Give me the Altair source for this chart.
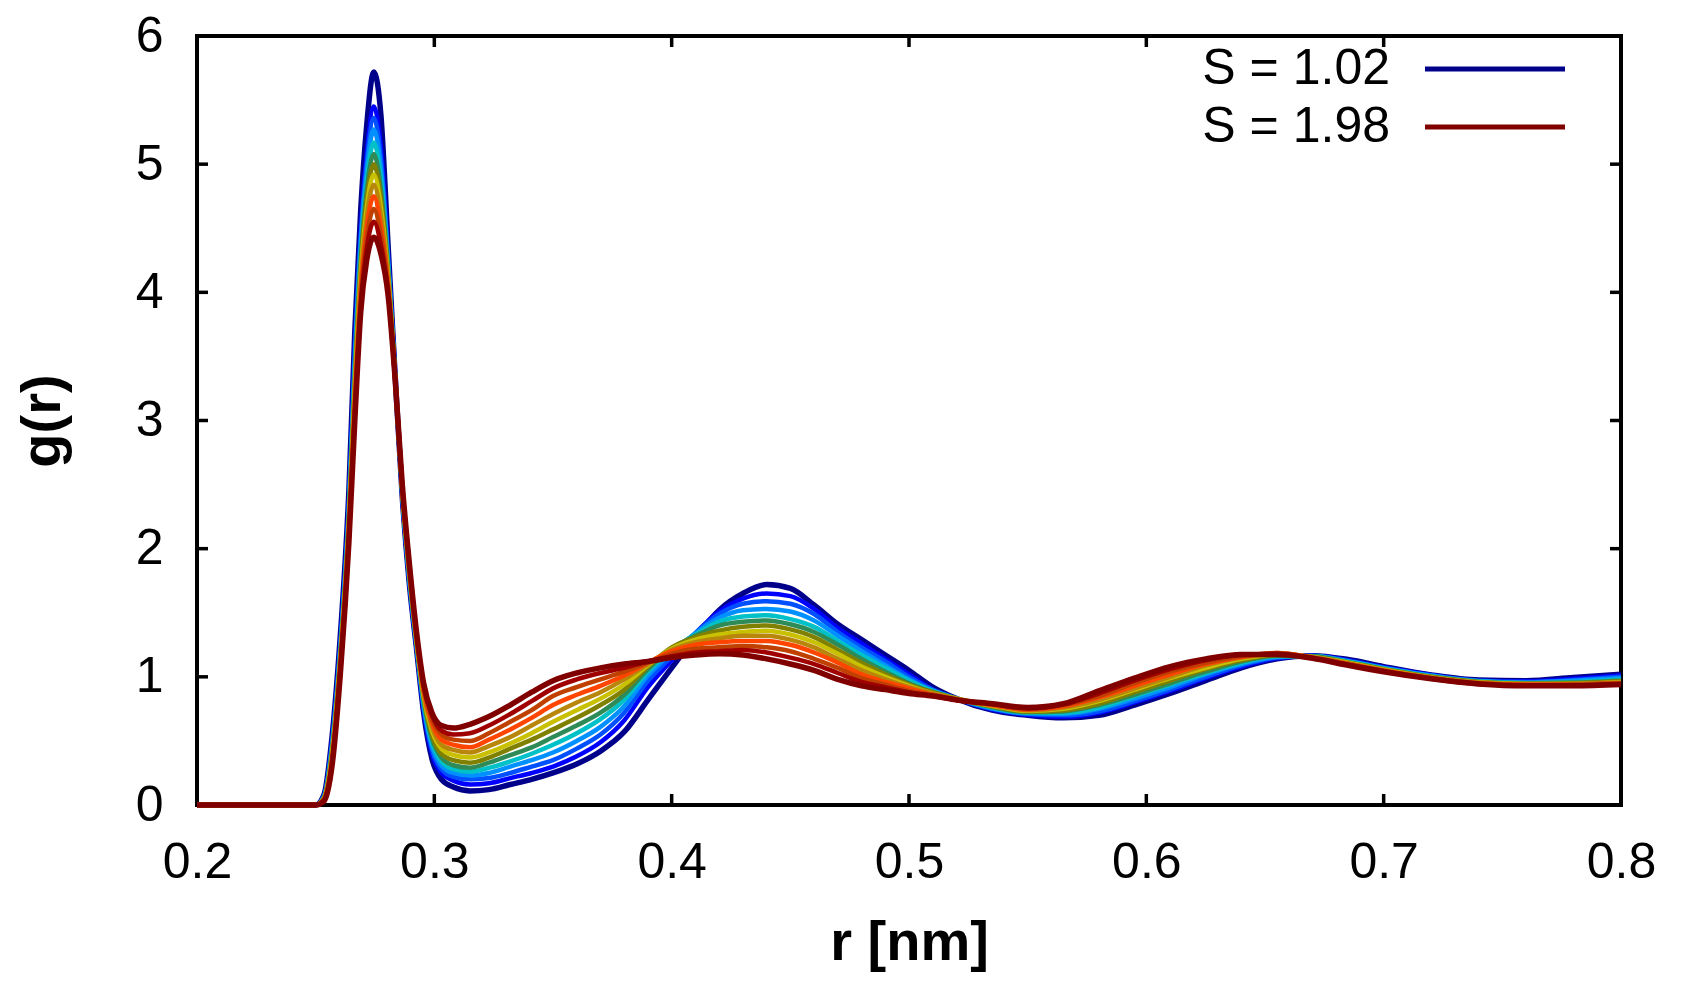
import altair as alt
import pandas as pd

# r grid [nm]
r = [0.200, 0.250, 0.2535, 0.257, 0.2605, 0.264, 0.2665, 0.269, 0.2715, 0.2745,
     0.2775, 0.2805, 0.2835, 0.2865, 0.2895, 0.2925, 0.2955, 0.299, 0.303, 0.308,
     0.315, 0.323, 0.332, 0.341, 0.350, 0.360, 0.370, 0.380, 0.390, 0.400,
     0.410, 0.420, 0.430, 0.440, 0.450, 0.460, 0.470, 0.480, 0.490, 0.500,
     0.510, 0.520, 0.535, 0.550, 0.565, 0.580, 0.595, 0.610, 0.625, 0.640,
     0.655, 0.670, 0.685, 0.700, 0.720, 0.740, 0.760, 0.780, 0.800]

g_102 = [0, 0, 0.08, 0.55, 1.35, 2.45, 3.70, 4.65, 5.30, 5.72, 5.38, 4.37, 3.35, 2.40, 1.72, 1.22, 0.72, 0.36, 0.20, 0.14,
         0.11, 0.12, 0.16, 0.20, 0.25, 0.32, 0.42, 0.57, 0.82, 1.07, 1.31, 1.52, 1.65, 1.72, 1.69, 1.56, 1.41, 1.29, 1.17, 1.05,
         0.92, 0.83, 0.74, 0.70, 0.68, 0.70, 0.78, 0.87, 0.97, 1.07, 1.14, 1.165, 1.135, 1.08, 1.015, 0.975, 0.97, 0.995, 1.02]
g_110 = [0, 0, 0.07, 0.52, 1.30, 2.38, 3.58, 4.50, 5.08, 5.45, 5.12, 4.30, 3.35, 2.41, 1.73, 1.23, 0.74, 0.40, 0.25, 0.19,
         0.16, 0.17, 0.21, 0.25, 0.30, 0.38, 0.49, 0.66, 0.92, 1.13, 1.34, 1.51, 1.61, 1.65, 1.63, 1.53, 1.38, 1.26, 1.14, 1.02,
         0.90, 0.83, 0.745, 0.705, 0.69, 0.72, 0.80, 0.89, 0.99, 1.08, 1.145, 1.165, 1.13, 1.075, 1.015, 0.97, 0.965, 0.985, 1.01]
g_118 = [0, 0, 0.07, 0.50, 1.27, 2.34, 3.52, 4.44, 5.01, 5.36, 5.04, 4.27, 3.34, 2.42, 1.75, 1.24, 0.76, 0.43, 0.28, 0.22,
         0.20, 0.21, 0.25, 0.30, 0.35, 0.44, 0.55, 0.72, 0.97, 1.16, 1.34, 1.49, 1.57, 1.59, 1.57, 1.49, 1.35, 1.23, 1.12, 1.00,
         0.90, 0.83, 0.75, 0.71, 0.70, 0.73, 0.81, 0.90, 1.00, 1.09, 1.15, 1.165, 1.125, 1.07, 1.01, 0.97, 0.96, 0.975, 1.00]
g_126 = [0, 0, 0.06, 0.48, 1.25, 2.31, 3.46, 4.38, 4.94, 5.27, 4.96, 4.24, 3.34, 2.43, 1.76, 1.25, 0.78, 0.46, 0.31, 0.25,
         0.23, 0.25, 0.30, 0.35, 0.41, 0.50, 0.61, 0.77, 1.01, 1.19, 1.34, 1.46, 1.52, 1.53, 1.51, 1.44, 1.32, 1.20, 1.09, 0.98,
         0.89, 0.83, 0.755, 0.715, 0.71, 0.75, 0.83, 0.92, 1.02, 1.10, 1.155, 1.16, 1.12, 1.07, 1.01, 0.965, 0.955, 0.97, 0.99]
g_134 = [0, 0, 0.06, 0.46, 1.22, 2.28, 3.40, 4.31, 4.86, 5.17, 4.88, 4.21, 3.34, 2.43, 1.77, 1.26, 0.80, 0.49, 0.34, 0.28,
         0.26, 0.29, 0.34, 0.40, 0.47, 0.56, 0.67, 0.82, 1.04, 1.21, 1.33, 1.43, 1.47, 1.48, 1.45, 1.39, 1.28, 1.17, 1.07, 0.97,
         0.89, 0.83, 0.76, 0.72, 0.72, 0.76, 0.85, 0.94, 1.03, 1.11, 1.16, 1.16, 1.12, 1.065, 1.005, 0.965, 0.95, 0.96, 0.98]
g_142 = [0, 0, 0.06, 0.44, 1.20, 2.25, 3.35, 4.25, 4.79, 5.08, 4.80, 4.18, 3.34, 2.44, 1.79, 1.27, 0.82, 0.52, 0.37, 0.31,
         0.29, 0.33, 0.39, 0.45, 0.53, 0.62, 0.72, 0.86, 1.06, 1.22, 1.32, 1.40, 1.43, 1.44, 1.41, 1.35, 1.25, 1.14, 1.04, 0.95,
         0.88, 0.83, 0.765, 0.725, 0.73, 0.78, 0.86, 0.95, 1.04, 1.12, 1.165, 1.16, 1.115, 1.06, 1.00, 0.96, 0.95, 0.955, 0.97]
g_150 = [0, 0, 0.05, 0.43, 1.18, 2.22, 3.30, 4.20, 4.72, 5.00, 4.73, 4.15, 3.33, 2.45, 1.80, 1.28, 0.84, 0.55, 0.40, 0.35,
         0.33, 0.37, 0.44, 0.51, 0.59, 0.68, 0.78, 0.90, 1.08, 1.23, 1.31, 1.36, 1.39, 1.40, 1.37, 1.31, 1.21, 1.11, 1.02, 0.94,
         0.88, 0.83, 0.77, 0.73, 0.74, 0.79, 0.88, 0.97, 1.06, 1.13, 1.17, 1.155, 1.11, 1.06, 1.00, 0.96, 0.945, 0.95, 0.965]
g_158 = [0, 0, 0.05, 0.41, 1.16, 2.19, 3.25, 4.14, 4.65, 4.92, 4.66, 4.12, 3.33, 2.46, 1.82, 1.29, 0.85, 0.58, 0.44, 0.39,
         0.37, 0.41, 0.48, 0.56, 0.65, 0.74, 0.83, 0.94, 1.09, 1.22, 1.29, 1.33, 1.35, 1.36, 1.33, 1.27, 1.18, 1.08, 1.00, 0.93,
         0.87, 0.83, 0.775, 0.735, 0.75, 0.81, 0.90, 0.99, 1.07, 1.14, 1.175, 1.155, 1.11, 1.055, 0.995, 0.955, 0.945, 0.945, 0.96]
g_166 = [0, 0, 0.05, 0.39, 1.14, 2.17, 3.20, 4.08, 4.58, 4.84, 4.59, 4.09, 3.33, 2.46, 1.83, 1.30, 0.87, 0.61, 0.47, 0.43,
         0.41, 0.46, 0.53, 0.62, 0.71, 0.80, 0.88, 0.98, 1.10, 1.21, 1.27, 1.30, 1.32, 1.32, 1.29, 1.23, 1.14, 1.05, 0.98, 0.92,
         0.87, 0.83, 0.78, 0.74, 0.76, 0.82, 0.91, 1.00, 1.09, 1.15, 1.18, 1.155, 1.105, 1.05, 0.995, 0.955, 0.94, 0.945, 0.955]
g_174 = [0, 0, 0.04, 0.37, 1.12, 2.14, 3.15, 4.02, 4.50, 4.75, 4.51, 4.06, 3.33, 2.47, 1.84, 1.31, 0.89, 0.64, 0.51, 0.47,
         0.45, 0.51, 0.59, 0.68, 0.78, 0.86, 0.93, 1.01, 1.11, 1.20, 1.25, 1.27, 1.28, 1.28, 1.25, 1.19, 1.11, 1.02, 0.96, 0.91,
         0.86, 0.82, 0.78, 0.745, 0.77, 0.84, 0.93, 1.02, 1.10, 1.155, 1.185, 1.15, 1.10, 1.05, 0.99, 0.95, 0.94, 0.94, 0.95]
g_182 = [0, 0, 0.04, 0.36, 1.10, 2.11, 3.10, 3.96, 4.42, 4.65, 4.44, 4.03, 3.32, 2.48, 1.85, 1.32, 0.91, 0.67, 0.55, 0.51,
         0.50, 0.56, 0.65, 0.74, 0.85, 0.92, 0.98, 1.04, 1.11, 1.18, 1.22, 1.23, 1.24, 1.23, 1.20, 1.14, 1.07, 0.99, 0.94, 0.89,
         0.86, 0.82, 0.785, 0.75, 0.78, 0.85, 0.95, 1.04, 1.11, 1.16, 1.185, 1.15, 1.10, 1.045, 0.99, 0.95, 0.935, 0.94, 0.95]
g_190 = [0, 0, 0.04, 0.34, 1.08, 2.08, 3.05, 3.90, 4.34, 4.55, 4.37, 4.00, 3.32, 2.49, 1.87, 1.33, 0.93, 0.70, 0.58, 0.55,
         0.56, 0.62, 0.71, 0.81, 0.91, 0.98, 1.03, 1.07, 1.12, 1.16, 1.19, 1.20, 1.21, 1.19, 1.15, 1.10, 1.03, 0.96, 0.92, 0.88,
         0.85, 0.82, 0.79, 0.755, 0.785, 0.87, 0.97, 1.06, 1.13, 1.17, 1.18, 1.145, 1.095, 1.045, 0.985, 0.945, 0.935, 0.935, 0.945]
g_198 = [0, 0, 0.03, 0.32, 1.05, 2.05, 3.00, 3.85, 4.25, 4.43, 4.30, 3.98, 3.32, 2.50, 1.88, 1.35, 0.95, 0.72, 0.62, 0.60,
         0.63, 0.69, 0.78, 0.88, 0.97, 1.03, 1.07, 1.10, 1.12, 1.15, 1.17, 1.18, 1.17, 1.14, 1.10, 1.05, 0.98, 0.93, 0.90, 0.87,
         0.85, 0.82, 0.79, 0.76, 0.79, 0.89, 0.99, 1.08, 1.14, 1.175, 1.175, 1.145, 1.09, 1.04, 0.985, 0.945, 0.93, 0.93, 0.94]

S_values = [1.02, 1.10, 1.18, 1.26, 1.34, 1.42, 1.50, 1.58, 1.66, 1.74, 1.82, 1.90, 1.98]
curves = [g_102, g_110, g_118, g_126, g_134, g_142, g_150, g_158, g_166, g_174, g_182, g_190, g_198]
colors = ["#00008b", "#0000ff", "#0050ff", "#0090ff", "#00c0c8", "#2e8b57", "#808000",
          "#c8c000", "#b8860b", "#ff4500", "#c04000", "#a00000", "#800000"]
widths = [5.5, 4.5, 4.5, 4.5, 4.5, 4.5, 4.5, 4.5, 4.5, 4.5, 4.5, 4.5, 5.5]

x_ticks = [0.2, 0.3, 0.4, 0.5, 0.6, 0.7, 0.8]
y_ticks = [0, 1, 2, 3, 4, 5, 6]
legend_S = [1.02, 1.98]
legend_colors = ["#00008b", "#800000"]

W, H = 1424, 769
FONT = "Liberation Sans"

xscale = alt.Scale(domain=[0.2, 0.8], nice=False, zero=False)
yscale = alt.Scale(domain=[0, 6], nice=False, zero=False)

xaxis = alt.Axis(values=x_ticks, format=".1f", labelFontSize=50, labelFont=FONT, labelColor="black",
                 labelPadding=32, labelFlush=False, labelOverlap=False, ticks=False, domain=False, grid=False,
                 title="r [nm]", titleFont=FONT, titleFontSize=56, titleFontWeight="bold", titleColor="black",
                 titlePadding=28)
yaxis = alt.Axis(values=y_ticks, format="d", labelFontSize=50, labelFont=FONT, labelColor="black",
                 labelPadding=34, labelFlush=False, labelOverlap=False, ticks=False, domain=False, grid=False,
                 title="g(r)", titleFont=FONT, titleFontSize=56, titleFontWeight="bold", titleColor="black",
                 titlePadding=64)

X = alt.X("r:Q", scale=xscale, axis=xaxis, title="r [nm]")
Y = alt.Y("g:Q", scale=yscale, axis=yaxis, title="g(r)")

layers = []

# inward ticks (gnuplot style) on all four sides
xt = pd.DataFrame({"r": x_ticks})
yt = pd.DataFrame({"g": y_ticks})
TL = 11
layers.append(alt.Chart(xt).mark_rule(color="black", strokeWidth=3.5).encode(
    x=X, y=alt.value(H), y2=alt.value(H - TL)))
layers.append(alt.Chart(xt).mark_rule(color="black", strokeWidth=3.5).encode(
    x=X, y=alt.value(0), y2=alt.value(TL)))
layers.append(alt.Chart(yt).mark_rule(color="black", strokeWidth=3.5).encode(
    y=Y, x=alt.value(0), x2=alt.value(TL)))
layers.append(alt.Chart(yt).mark_rule(color="black", strokeWidth=3.5).encode(
    y=Y, x=alt.value(W), x2=alt.value(W - TL)))

for S, g, c, w in zip(S_values, curves, colors, widths):
    assert len(g) == len(r)
    df = pd.DataFrame({"r": r, "g": g})
    layers.append(alt.Chart(df).mark_line(color=c, strokeWidth=w, interpolate="monotone",
                                          strokeJoin="round").encode(x=X, y=Y))

# legend (gnuplot style: label right-aligned, sample line to the right)
leg_y = [33, 91]
for S, c, yy in zip(legend_S, legend_colors, leg_y):
    one = pd.DataFrame({"a": [0]})
    layers.append(alt.Chart(one).mark_text(align="right", baseline="middle", fontSize=50, font=FONT,
                                           color="black").encode(
        x=alt.value(1193), y=alt.value(yy), text=alt.value(f"S = {S:.2f}")))
    layers.append(alt.Chart(one).mark_rule(color=c, strokeWidth=5).encode(
        x=alt.value(1228), x2=alt.value(1368), y=alt.value(yy)))

chart = alt.layer(*layers).properties(
    width=W, height=H,
    padding={"left": 189, "top": 28, "right": 40, "bottom": 170},
    autosize=alt.AutoSizeParams(type="none"),
).configure_view(stroke="black", strokeWidth=4)

chart.save("out.html", embed_options={"renderer": "svg", "actions": False})
